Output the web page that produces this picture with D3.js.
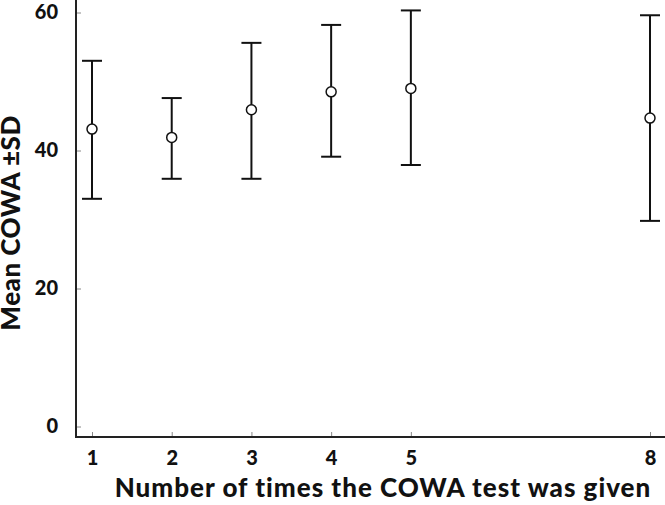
<!DOCTYPE html>
<html>
<head>
<meta charset="utf-8">
<script src="https://cdn.jsdelivr.net/npm/d3@7"></script>
<style>
  body { margin: 0; background: #fff; }
  svg text { font-family: Lato, "Open Sans", sans-serif; font-weight: 900; fill: #111; }
  .tick line { stroke: #888; stroke-width: 1; }
  .bar line { stroke: #111; stroke-width: 2; }
  .mean { fill: #fff; stroke: #111; stroke-width: 1.5; }
</style>
</head>
<body>
<svg id="chart" width="665" height="505"></svg>
<script>
(function () {
  "use strict";

  var times = [1, 2, 3, 4, 5, 8];
  var means = [43.1, 41.9, 45.9, 48.5, 49.0, 44.7];
  var lower = [33.0, 35.9, 35.9, 39.1, 37.9, 29.8];
  var upper = [53.0, 47.6, 55.6, 58.2, 60.3, 59.6];
  var xTicks = [1, 2, 3, 4, 5, 8];
  var yTicks = [0, 20, 40, 60];

  var data = times.map(function (t, i) {
    return {x: t, mean: means[i], lo: lower[i], hi: upper[i]};
  });

  var svg = d3.select('#chart');
  var axisX = 76, axisY = 437;

  var x = d3.scaleLinear().domain([1, 8]).range([92, 650]);
  var y = d3.scaleLinear().domain([0, 60]).range([426.5, 12.5]);

  // y axis, ticks pointing in
  var yAxis = svg.append('g')
      .attr('transform', 'translate(' + axisX + ',0)')
      .call(d3.axisLeft(y).tickValues(yTicks).tickSizeInner(-5).tickSizeOuter(0).tickPadding(18));
  yAxis.select('.domain').remove();
  yAxis.selectAll('text').attr('font-size', 20).attr('font-family', null);

  var xAxis = svg.append('g')
      .attr('transform', 'translate(0,' + axisY + ')')
      .call(d3.axisBottom(x).tickValues(xTicks).tickFormat(d3.format('d')).tickSizeInner(-5).tickSizeOuter(0).tickPadding(14));
  xAxis.select('.domain').remove();
  xAxis.selectAll('text').attr('font-size', 20).attr('font-family', null);

  // axis lines run past the data range
  svg.append('line')
      .attr('x1', axisX).attr('x2', axisX).attr('y1', 0).attr('y2', axisY + 1)
      .attr('stroke', '#222').attr('stroke-width', 2);
  svg.append('line')
      .attr('x1', axisX - 1).attr('x2', 665).attr('y1', axisY).attr('y2', axisY)
      .attr('stroke', '#222').attr('stroke-width', 2);

  // error bars
  var capHalf = 10;
  var bars = svg.selectAll('.bar').data(data).enter().append('g').attr('class', 'bar');
  bars.append('line')
      .attr('x1', function (d) { return x(d.x); })
      .attr('x2', function (d) { return x(d.x); })
      .attr('y1', function (d) { return y(d.lo); })
      .attr('y2', function (d) { return y(d.hi); });
  bars.append('line')
      .attr('x1', function (d) { return x(d.x) - capHalf; })
      .attr('x2', function (d) { return x(d.x) + capHalf; })
      .attr('y1', function (d) { return y(d.hi); })
      .attr('y2', function (d) { return y(d.hi); });
  bars.append('line')
      .attr('x1', function (d) { return x(d.x) - capHalf; })
      .attr('x2', function (d) { return x(d.x) + capHalf; })
      .attr('y1', function (d) { return y(d.lo); })
      .attr('y2', function (d) { return y(d.lo); });
  bars.append('circle')
      .attr('class', 'mean')
      .attr('cx', function (d) { return x(d.x); })
      .attr('cy', function (d) { return y(d.mean); })
      .attr('r', 5);

  // axis titles
  svg.append('text')
      .attr('x', 383).attr('y', 497)
      .attr('text-anchor', 'middle')
      .attr('font-size', 26)
      .attr('letter-spacing', 1)
      .text('Number of times the COWA test was given');
  svg.append('text')
      .attr('transform', 'translate(20,223) rotate(-90)')
      .attr('text-anchor', 'middle')
      .attr('font-size', 26)
      .attr('letter-spacing', 0.5)
      .text('Mean COWA \u00b1SD');
}());
</script>
</body>
</html>
